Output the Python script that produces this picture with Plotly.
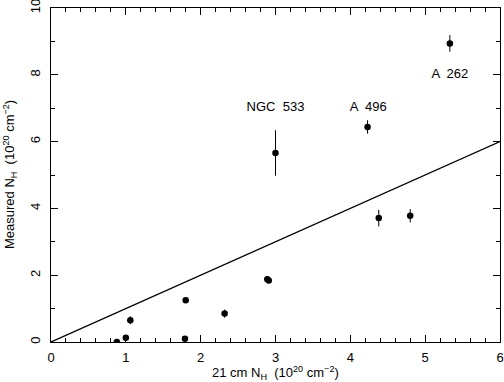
import plotly.graph_objects as go

# 21 cm N_H vs measured N_H (units of 1e20 cm^-2)
nh_21cm = [0.88, 1.00, 1.06, 1.80, 1.79, 2.32, 2.89, 2.91, 3.00, 4.23, 5.33, 4.38, 4.80]
nh_meas = [0.00, 0.13, 0.65, 1.25, 0.10, 0.85, 1.88, 1.84, 5.66, 6.44, 8.94, 3.71, 3.78]
nh_err = [0.03, 0.05, 0.12, 0.06, 0.05, 0.12, 0.08, 0.07, 0.68, 0.20, 0.25, 0.25, 0.20]

line_x = [0, 6]
line_y = [0, 6]

label_x = [3.0, 4.24, 5.33]
label_y = [7.0, 7.0, 8.0]
label_text = ["NGC  533", "A  496", "A  262"]

font = dict(family="Liberation Sans, Arial, sans-serif", size=13, color="black")

fig = go.Figure()
fig.add_trace(go.Scatter(x=line_x, y=line_y, mode="lines",
                         line=dict(color="black", width=1.3), hoverinfo="skip"))
fig.add_trace(go.Scatter(
    x=nh_21cm, y=nh_meas, mode="markers",
    marker=dict(color="black", size=6.5),
    error_y=dict(type="data", array=nh_err, color="black", thickness=1, width=0),
))
fig.add_trace(go.Scatter(x=label_x, y=label_y, mode="text", text=label_text,
                         textfont=font, hoverinfo="skip"))

axis = dict(showline=True, linecolor="black", linewidth=1, mirror="ticks",
            ticks="inside", ticklen=7, tickcolor="black", showgrid=False,
            zeroline=False, tickfont=font, automargin=False,
            ticklabeloverflow="allow")

fig.update_xaxes(range=[0, 6], dtick=1, tick0=0, ticklabelstandoff=3,
                 minor=dict(dtick=0.2, ticks="inside", ticklen=4, tickcolor="black"),
                 **axis)
fig.update_yaxes(range=[0, 10], dtick=2, tick0=0, tickangle=-90, ticklabelstandoff=5,
                 minor=dict(dtick=1, ticks="inside", ticklen=4, tickcolor="black"),
                 **axis)

# axis titles as annotations so they can sit exactly where the original has them
fig.add_annotation(text="21 cm N<sub>H</sub>  (10<sup>20</sup> cm<sup>−2</sup>)",
                   xref="paper", yref="paper", x=0.5, y=0, xanchor="center",
                   yanchor="top", yshift=-20, showarrow=False, font=font)
fig.add_annotation(text="Measured N<sub>H</sub>  (10<sup>20</sup> cm<sup>−2</sup>)",
                   xref="paper", yref="paper", x=0, y=0.5, xanchor="right",
                   yanchor="middle", xshift=-30, textangle=-90,
                   showarrow=False, font=font)

fig.update_layout(width=504, height=382, showlegend=False,
                  plot_bgcolor="white", paper_bgcolor="white",
                  margin=dict(l=51, r=4, t=8, b=40), font=font)

# drop the page's default body margin so the figure sits at the window corner
fig.write_html("out.html", config={"displayModeBar": False},
               post_script="document.body.style.margin='0';")
